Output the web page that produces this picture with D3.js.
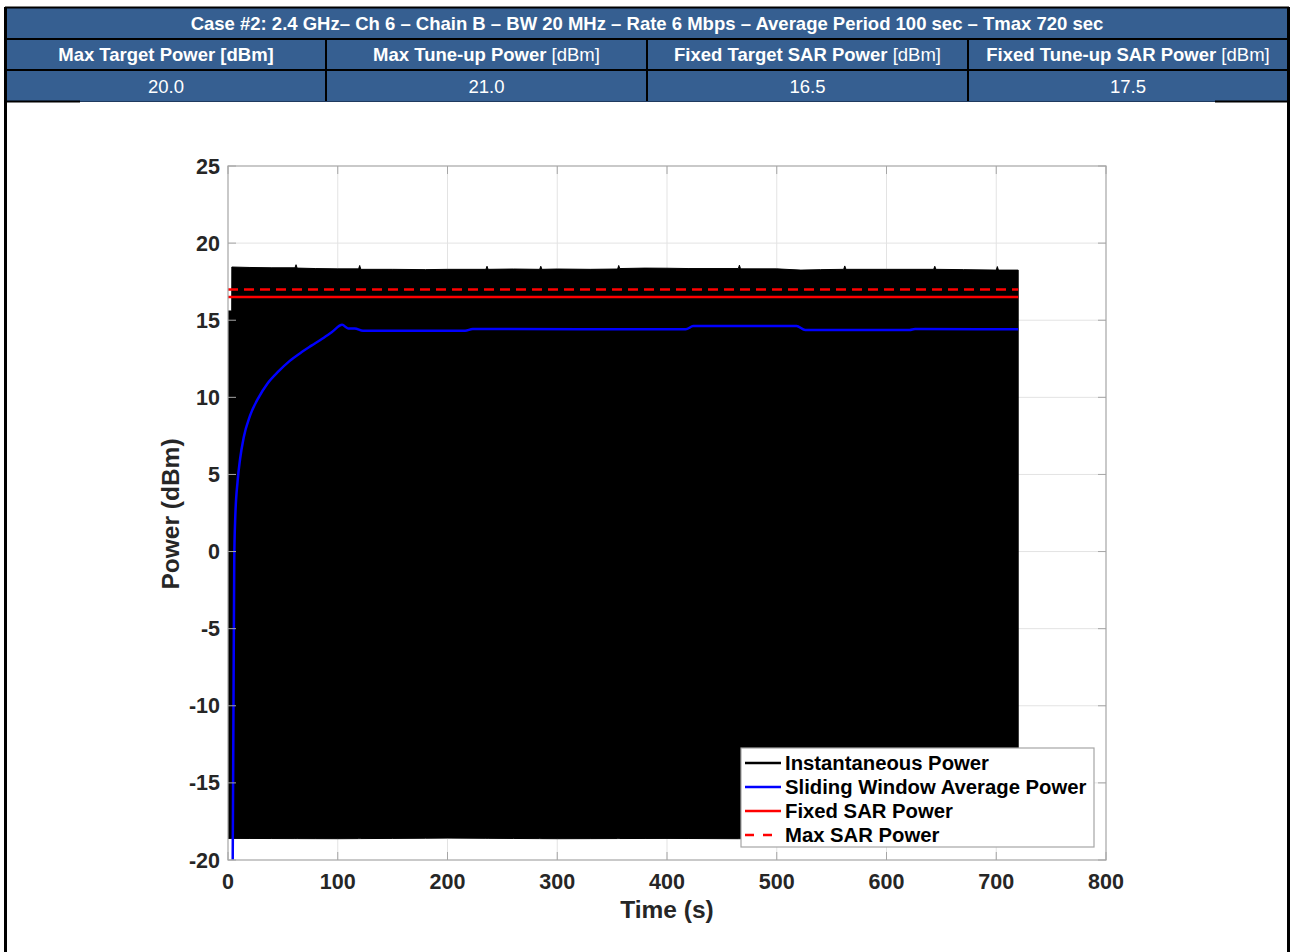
<!DOCTYPE html>
<html>
<head>
<meta charset="utf-8">
<script src="https://cdn.jsdelivr.net/npm/d3@7"></script>
<style>
  body { margin: 0; background: #fff; }
  svg { display: block; font-family: "Liberation Sans", Arial, sans-serif; }
</style>
</head>
<body>
<svg id="chart" width="1290" height="952"></svg>
<script>
// --- table values
var caseTitle = "Case #2: 2.4 GHz\u2013 Ch 6 \u2013 Chain B \u2013 BW 20 MHz \u2013 Rate 6 Mbps \u2013 Average Period 100 sec \u2013 Tmax 720 sec";
var colHeads = ["Max Target Power", "Max Tune-up Power", "Fixed Target SAR Power", "Fixed Tune-up SAR Power"];
var colHeadBoldUnit = [true, false, false, false];
var colValues = ["20.0", "21.0", "16.5", "17.5"];

// --- axes
var xTicks = [0, 100, 200, 300, 400, 500, 600, 700, 800];
var yTicks = [-20, -15, -10, -5, 0, 5, 10, 15, 20, 25];

// --- instantaneous power envelope (s, dBm)
var instTime = [0, 3.4, 3.5, 20, 40, 61, 62, 63, 80, 100, 119, 120, 121, 150, 180, 200, 235, 236, 237, 260, 284, 285, 286, 300, 330, 355, 356, 357, 380, 400, 420, 465, 466, 467, 500, 522, 540, 561, 562, 563, 600, 643, 644, 645, 670, 700, 701, 702, 720];
var instMax  = [15.6, 15.6, 18.45, 18.42, 18.4, 18.4, 18.6, 18.38, 18.35, 18.33, 18.33, 18.55, 18.3, 18.3, 18.28, 18.3, 18.3, 18.5, 18.3, 18.32, 18.3, 18.5, 18.3, 18.32, 18.3, 18.32, 18.55, 18.35, 18.38, 18.37, 18.35, 18.35, 18.57, 18.33, 18.33, 18.25, 18.28, 18.3, 18.52, 18.3, 18.3, 18.3, 18.5, 18.3, 18.28, 18.25, 18.48, 18.25, 18.25];
var instMinTime = [0, 100, 200, 300, 400, 500, 600, 720];
var instMin  = [-18.6, -18.62, -18.58, -18.62, -18.6, -18.63, -18.6, -18.6];

// --- sliding window average (s, dBm)
var avgTime = [4.3, 5, 5.7, 6.5, 8.8, 11, 14.3, 20, 28, 36, 46.2, 56, 67.5, 76, 85.8, 95, 104, 109.5, 115.5, 123, 216, 223, 417, 424, 518, 526, 621, 626, 720];
var avgPow  = [-20, -10, -0.5, 2, 4.6, 6, 7.4, 8.8, 10.0, 10.9, 11.7, 12.35, 12.95, 13.35, 13.8, 14.25, 14.7, 14.47, 14.47, 14.32, 14.32, 14.43, 14.41, 14.62, 14.62, 14.36, 14.36, 14.43, 14.41];

// --- fixed levels
var sarTime = [0, 720];
var fixedSar = 16.5;
var maxSar = 17.0;

var legendItems = [
  { label: "Instantaneous Power", color: "#000000", dash: null },
  { label: "Sliding Window Average Power", color: "#0000ff", dash: null },
  { label: "Fixed SAR Power", color: "#ff0000", dash: null },
  { label: "Max SAR Power", color: "#ff0000", dash: "9,9" }
];

var svg = d3.select("#chart");

// ---------- table ----------
var tblBlue = "#365f91";
var colX = [6, 326, 647, 968, 1288];
var tblFont = 18.5;

svg.append("rect").attr("x", 6).attr("y", 8).attr("width", 1282).attr("height", 93).attr("fill", tblBlue);

svg.append("text").attr("x", 647).attr("y", 29.5).attr("text-anchor", "middle")
  .attr("fill", "#fff").attr("font-weight", "bold").attr("font-size", tblFont).text(caseTitle);

colHeads.forEach(function(h, i) {
  var cx = (colX[i] + colX[i + 1]) / 2;
  var t = svg.append("text").attr("x", cx).attr("y", 61).attr("text-anchor", "middle")
    .attr("fill", "#fff").attr("font-size", tblFont);
  t.append("tspan").attr("font-weight", "bold").text(h + " ");
  t.append("tspan").attr("font-weight", colHeadBoldUnit[i] ? "bold" : "normal").text("[dBm]");
  svg.append("text").attr("x", cx).attr("y", 92.5).attr("text-anchor", "middle")
    .attr("fill", "#fff").attr("font-size", tblFont).text(colValues[i]);
});

// table borders
svg.append("line").attr("x1", 5).attr("x2", 1289).attr("y1", 7.5).attr("y2", 7.5).attr("stroke", "#000").attr("stroke-width", 2);
[39, 70].forEach(function(y) {
  svg.append("line").attr("x1", 5).attr("x2", 1289).attr("y1", y).attr("y2", y).attr("stroke", "#000").attr("stroke-width", 2);
});
[326, 647, 968].forEach(function(x) {
  svg.append("line").attr("x1", x).attr("x2", x).attr("y1", 39).attr("y2", 101).attr("stroke", "#000").attr("stroke-width", 2);
});
svg.append("line").attr("x1", 5).attr("x2", 1289).attr("y1", 101.5).attr("y2", 101.5).attr("stroke", "#1f3a5f").attr("stroke-width", 1);
svg.append("line").attr("x1", 5).attr("x2", 80).attr("y1", 101.5).attr("y2", 101.5).attr("stroke", "#000").attr("stroke-width", 2);
svg.append("line").attr("x1", 1215).attr("x2", 1289).attr("y1", 101.5).attr("y2", 101.5).attr("stroke", "#000").attr("stroke-width", 2);
// outer frame
svg.append("line").attr("x1", 5.5).attr("x2", 5.5).attr("y1", 7).attr("y2", 952).attr("stroke", "#000").attr("stroke-width", 3);
svg.append("line").attr("x1", 1288.5).attr("x2", 1288.5).attr("y1", 7).attr("y2", 952).attr("stroke", "#000").attr("stroke-width", 3);

// ---------- plot ----------
var L = 228, R = 1106, T = 166, B = 860;
var x = d3.scaleLinear().domain([0, 800]).range([L, R]);
var y = d3.scaleLinear().domain([-20, 25]).range([B, T]);

var g = svg.append("g");

// grid
g.selectAll(".gx").data(xTicks.slice(1, -1)).enter().append("line")
  .attr("x1", d => x(d)).attr("x2", d => x(d)).attr("y1", T).attr("y2", B)
  .attr("stroke", "#e3e3e3").attr("stroke-width", 1);
g.selectAll(".gy").data(yTicks.slice(1, -1)).enter().append("line")
  .attr("y1", d => y(d)).attr("y2", d => y(d)).attr("x1", L).attr("x2", R)
  .attr("stroke", "#e3e3e3").attr("stroke-width", 1);

svg.append("clipPath").attr("id", "plotclip").append("rect")
  .attr("x", L).attr("y", T).attr("width", R - L).attr("height", B - T);
var pg = g.append("g").attr("clip-path", "url(#plotclip)");

// instantaneous envelope
var minAt = d3.scaleLinear().domain(instMinTime).range(instMin);
var instData = instTime.map(function(t, i) { return { t: t, hi: instMax[i], lo: minAt(t) }; });
pg.append("path").datum(instData)
  .attr("d", d3.area().x(d => x(d.t)).y0(d => y(d.lo)).y1(d => y(d.hi)))
  .attr("fill", "#000").attr("stroke", "#000").attr("stroke-width", 1);

// fixed SAR lines
var lineT = d3.line().x(d => x(d.t)).y(d => y(d.v));
pg.append("path").datum(sarTime.map(t => ({ t: t, v: fixedSar })))
  .attr("d", lineT).attr("fill", "none").attr("stroke", "#ff0000").attr("stroke-width", 2.5);
pg.append("path").datum(sarTime.map(t => ({ t: t, v: maxSar })))
  .attr("d", lineT).attr("fill", "none").attr("stroke", "#ff0000").attr("stroke-width", 2.5)
  .attr("stroke-dasharray", "10,6");

// sliding average
pg.append("path").datum(avgTime.map((t, i) => ({ t: t, v: avgPow[i] })))
  .attr("d", lineT.curve(d3.curveMonotoneX)).attr("fill", "none").attr("stroke", "#0000ff").attr("stroke-width", 2.5);

// axes box and inward ticks
var axisCol = "#a6a6a6";
g.append("rect").attr("x", L).attr("y", T).attr("width", R - L).attr("height", B - T)
  .attr("fill", "none").attr("stroke", axisCol).attr("stroke-width", 1.2);
var tl = 8;
xTicks.forEach(function(d) {
  g.append("line").attr("x1", x(d)).attr("x2", x(d)).attr("y1", B).attr("y2", B - tl).attr("stroke", axisCol);
  g.append("line").attr("x1", x(d)).attr("x2", x(d)).attr("y1", T).attr("y2", T + tl).attr("stroke", axisCol);
});
yTicks.forEach(function(d) {
  g.append("line").attr("y1", y(d)).attr("y2", y(d)).attr("x1", L).attr("x2", L + tl).attr("stroke", axisCol);
  g.append("line").attr("y1", y(d)).attr("y2", y(d)).attr("x1", R).attr("x2", R - tl).attr("stroke", axisCol);
});

// tick labels
var tickCol = "#262626";
g.selectAll(".xl").data(xTicks).enter().append("text")
  .attr("x", d => x(d)).attr("y", 889).attr("text-anchor", "middle")
  .attr("font-size", 21.5).attr("font-weight", "bold").attr("fill", tickCol).text(d => d);
g.selectAll(".yl").data(yTicks).enter().append("text")
  .attr("x", 220).attr("y", d => y(d) + 7.5).attr("text-anchor", "end")
  .attr("font-size", 21.5).attr("font-weight", "bold").attr("fill", tickCol).text(d => d);

// axis titles
g.append("text").attr("x", x(400)).attr("y", 918).attr("text-anchor", "middle")
  .attr("font-size", 24.5).attr("font-weight", "bold").attr("fill", tickCol).text("Time (s)");
g.append("text").attr("transform", "translate(179," + ((T + B) / 2 + 1) + ") rotate(-90)")
  .attr("text-anchor", "middle").attr("font-size", 24.5).attr("font-weight", "bold")
  .attr("fill", tickCol).text("Power (dBm)");

// legend
var lg = g.append("g").attr("transform", "translate(741,748)");
lg.append("rect").attr("x", 0).attr("y", 0).attr("width", 353).attr("height", 99)
  .attr("fill", "#fff").attr("stroke", axisCol).attr("stroke-width", 1.2);
legendItems.forEach(function(it, i) {
  var cy = 15 + i * 24;
  var ln = lg.append("line").attr("x1", 4).attr("x2", 40).attr("y1", cy).attr("y2", cy)
    .attr("stroke", it.color).attr("stroke-width", 2.5);
  if (it.dash) ln.attr("stroke-dasharray", it.dash);
  lg.append("text").attr("x", 44).attr("y", cy + 7).attr("font-size", 20.3)
    .attr("font-weight", "bold").attr("fill", "#000").text(it.label);
});
</script>
</body>
</html>
